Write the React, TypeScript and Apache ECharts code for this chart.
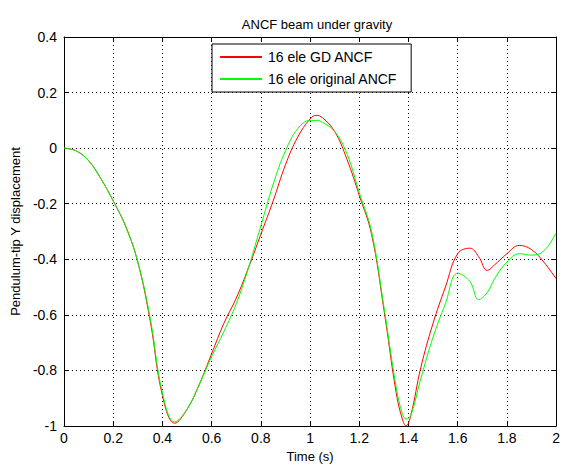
import React, { useEffect, useRef } from "react";
import * as echarts from "echarts";

const times = [
  0, 0.05, 0.1, 0.15, 0.2, 0.25, 0.3, 0.35, 0.4, 0.45, 0.5, 0.55, 0.6, 0.65, 0.7, 0.75,
  0.8, 0.85, 0.9, 0.95, 1.0, 1.025, 1.05, 1.1, 1.15, 1.2, 1.25, 1.3, 1.35, 1.375, 1.39,
  1.41, 1.45, 1.5, 1.55, 1.6, 1.65, 1.685, 1.72, 1.75, 1.8, 1.85, 1.9, 1.95, 2.0,
];

const gdAncf = [
  0, -0.01, -0.045, -0.11, -0.19, -0.28, -0.41, -0.62, -0.89, -0.99, -0.94, -0.85, -0.74,
  -0.63, -0.54, -0.43, -0.31, -0.19, -0.06, 0.04, 0.105, 0.118, 0.11, 0.06, -0.04, -0.17,
  -0.31, -0.58, -0.88, -0.975, -1.0, -0.96, -0.79, -0.63, -0.5, -0.38, -0.36, -0.39, -0.44,
  -0.42, -0.38, -0.35, -0.365, -0.41, -0.47,
];

const originalAncf = [
  0, -0.01, -0.045, -0.11, -0.19, -0.28, -0.41, -0.61, -0.88, -0.985, -0.94, -0.85, -0.75,
  -0.66, -0.56, -0.43, -0.28, -0.13, -0.01, 0.07, 0.1, 0.1, 0.093, 0.06, -0.02, -0.16,
  -0.3, -0.57, -0.86, -0.955, -0.975, -0.96, -0.83, -0.68, -0.56, -0.45, -0.48, -0.545,
  -0.52, -0.47, -0.41, -0.38, -0.385, -0.37, -0.305,
];

const xTicks = { min: 0, max: 2, interval: 0.2 };
const yTicks = { min: -1, max: 0.4, interval: 0.2 };

const FONT = "Liberation Sans";

export default function App() {
  const ref = useRef<HTMLDivElement>(null);

  useEffect(() => {
    if (!ref.current) return;
    const chart = echarts.init(ref.current, undefined, { renderer: "svg" });
    const tickStyle = { show: true, inside: true, length: 5, lineStyle: { color: "#000", width: 1 } };
    const axisLine = { show: true, onZero: false, lineStyle: { color: "#000", width: 1 } };
    const split = { show: true, lineStyle: { color: "#000", width: 1, type: [1, 3] as any } };
    chart.setOption({
      animation: false,
      backgroundColor: "#fff",
      title: {
        text: "ANCF beam under gravity",
        left: 312,
        top: 13,
        textAlign: "center",
        textStyle: { fontFamily: FONT, fontSize: 13, fontWeight: "normal", color: "#000" },
      },
      legend: {
        orient: "vertical",
        left: 212,
        top: 44,
        padding: [6, 14, 6, 8],
        itemGap: 8,
        itemWidth: 42,
        itemHeight: 2,
        icon: "rect",
        backgroundColor: "#fff",
        borderColor: "#000",
        borderWidth: 1,
        borderRadius: 0,
        textStyle: { fontFamily: FONT, fontSize: 14, color: "#000", padding: [0, 0, 0, 1] },
        data: ["16 ele GD ANCF", "16 ele original ANCF"],
      },
      grid: { left: 64, right: 3, top: 37, bottom: 38, containLabel: false },
      xAxis: [
        {
          type: "value",
          ...xTicks,
          name: "Time (s)",
          nameLocation: "middle",
          nameGap: 24,
          nameTextStyle: { fontFamily: FONT, fontSize: 13, color: "#000" },
          axisLine,
          axisTick: tickStyle,
          axisLabel: { fontFamily: FONT, fontSize: 14, color: "#000", margin: 5 },
          splitLine: split,
        },
        {
          type: "value",
          ...xTicks,
          position: "top",
          axisLine,
          axisTick: tickStyle,
          axisLabel: { show: false },
          splitLine: { show: false },
        },
      ],
      yAxis: [
        {
          type: "value",
          ...yTicks,
          name: "Pendulum-tip Y displacement",
          nameLocation: "middle",
          nameGap: 41,
          nameTextStyle: { fontFamily: FONT, fontSize: 13, color: "#000" },
          axisLine,
          axisTick: tickStyle,
          axisLabel: { fontFamily: FONT, fontSize: 14, color: "#000", margin: 7 },
          splitLine: split,
        },
        {
          type: "value",
          ...yTicks,
          position: "right",
          axisLine,
          axisTick: tickStyle,
          axisLabel: { show: false },
          splitLine: { show: false },
        },
      ],
      series: [
        {
          name: "16 ele GD ANCF",
          type: "line",
          data: times.map((t, i) => [t, gdAncf[i]]),
          smooth: 0.4,
          symbol: "none",
          lineStyle: { color: "#ff0000", width: 1 },
          itemStyle: { color: "#ff0000" },
          z: 2,
        },
        {
          name: "16 ele original ANCF",
          type: "line",
          data: times.map((t, i) => [t, originalAncf[i]]),
          smooth: 0.4,
          symbol: "none",
          lineStyle: { color: "#00ff00", width: 1 },
          itemStyle: { color: "#00ff00" },
          z: 3,
        },
      ],
    });
    return () => chart.dispose();
  }, []);

  return (
    <div
      ref={ref}
      style={{ position: "absolute", left: 0, top: 0, width: 563, height: 468 }}
    />
  );
}
